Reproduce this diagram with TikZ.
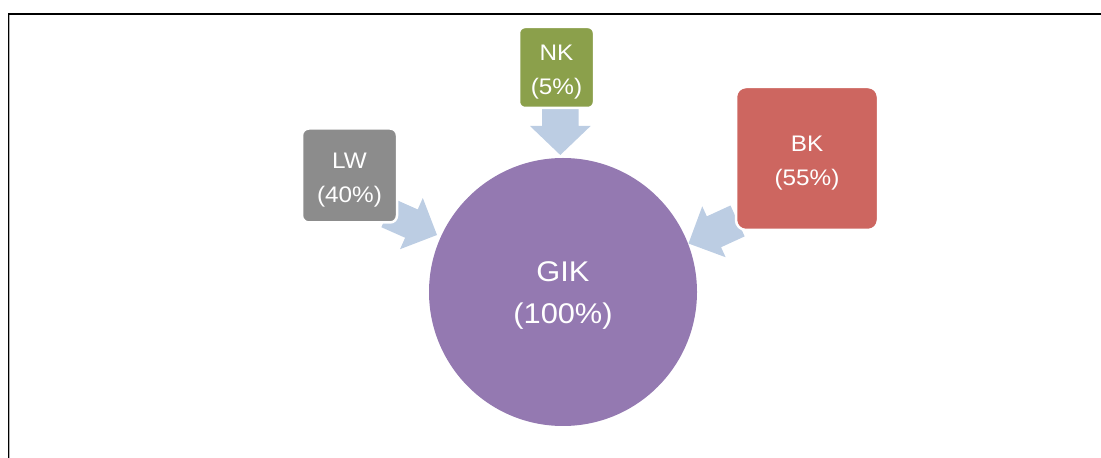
\documentclass[tikz,border=0pt]{standalone}
\usepackage{fontspec}
\setmainfont{Liberation Sans}[FakeStretch=1.08]
\usetikzlibrary{calc}
\definecolor{gikpurple}{HTML}{9479B1}
\definecolor{lwgray}{HTML}{8C8C8C}
\definecolor{nkgreen}{HTML}{8BA04B}
\definecolor{bkred}{HTML}{CD6660}
\definecolor{arrowblue}{HTML}{BCCDE3}
\tikzset{
  srcbox/.style={rectangle, rounded corners=7pt, draw=white, line width=2.5pt,
    text=white, align=center, inner sep=0pt, text height=58pt,
    font=\fontsize{22.5}{34}\selectfont},
  hubcircle/.style={circle, fill=gikpurple, text=white, align=center, inner sep=0pt,
    minimum size=268pt, text height=69pt, font=\fontsize{28.5}{42}\selectfont},
  blockarrow/.style={fill=arrowblue},
}
% #1 tip coordinate, #2 rotation, #3 head length, #4 head half width, #5 shaft half width, #6 total length
\newcommand{\convarrow}[6]{%
  \begin{scope}[shift={(#1)}, rotate=#2]
    \fill[blockarrow] (0,0) -- (-#3,#4) -- (-#3,#5) -- (-#6,#5) -- (-#6,-#5) -- (-#3,-#5) -- (-#3,-#4) -- cycle;
  \end{scope}}
\begin{document}
\begin{tikzpicture}[x=1pt, y=1pt]
  \useasboundingbox (0,0) rectangle (1101,458);
  % frame
  \draw[gray!60, line width=0.8pt] (9.6,0) -- (9.6,443.2) -- (1101,443.2);
  \draw[black, line width=1.4pt] (8.5,0) -- (8.5,444) -- (1101,444);
  % hub position
  \coordinate (hubc) at (563,166);
  % arrow tips
  \coordinate (lwtip) at ($(hubc)+(-126,57)$);
  \coordinate (nktip) at ($(hubc)+(-2.7,137)$);
  \coordinate (bktip) at ($(hubc)+(125.5,48.5)$);
  \convarrow{lwtip}{-24}{28}{28}{15.5}{54}
  \convarrow{nktip}{-90}{29}{30.3}{18.3}{56}
  \convarrow{bktip}{-155.3}{28}{28}{17}{54}
  % hub
  \node[hubcircle] (gik) at (hubc) {GIK\\(100\%)};
  % source boxes
  \node[srcbox, fill=lwgray, minimum width=95pt, minimum height=94pt] (lw) at (349.5,282.5) {LW\\(40\%)};
  \node[srcbox, fill=nkgreen, minimum width=75pt, minimum height=81pt, rounded corners=6pt] (nk) at (556.5,390.5) {NK\\(5\%)};
  \node[srcbox, fill=bkred, minimum width=142pt, minimum height=143pt, rounded corners=10pt] (bk) at (807,299.5) {BK\\(55\%)};
\end{tikzpicture}
\end{document}
